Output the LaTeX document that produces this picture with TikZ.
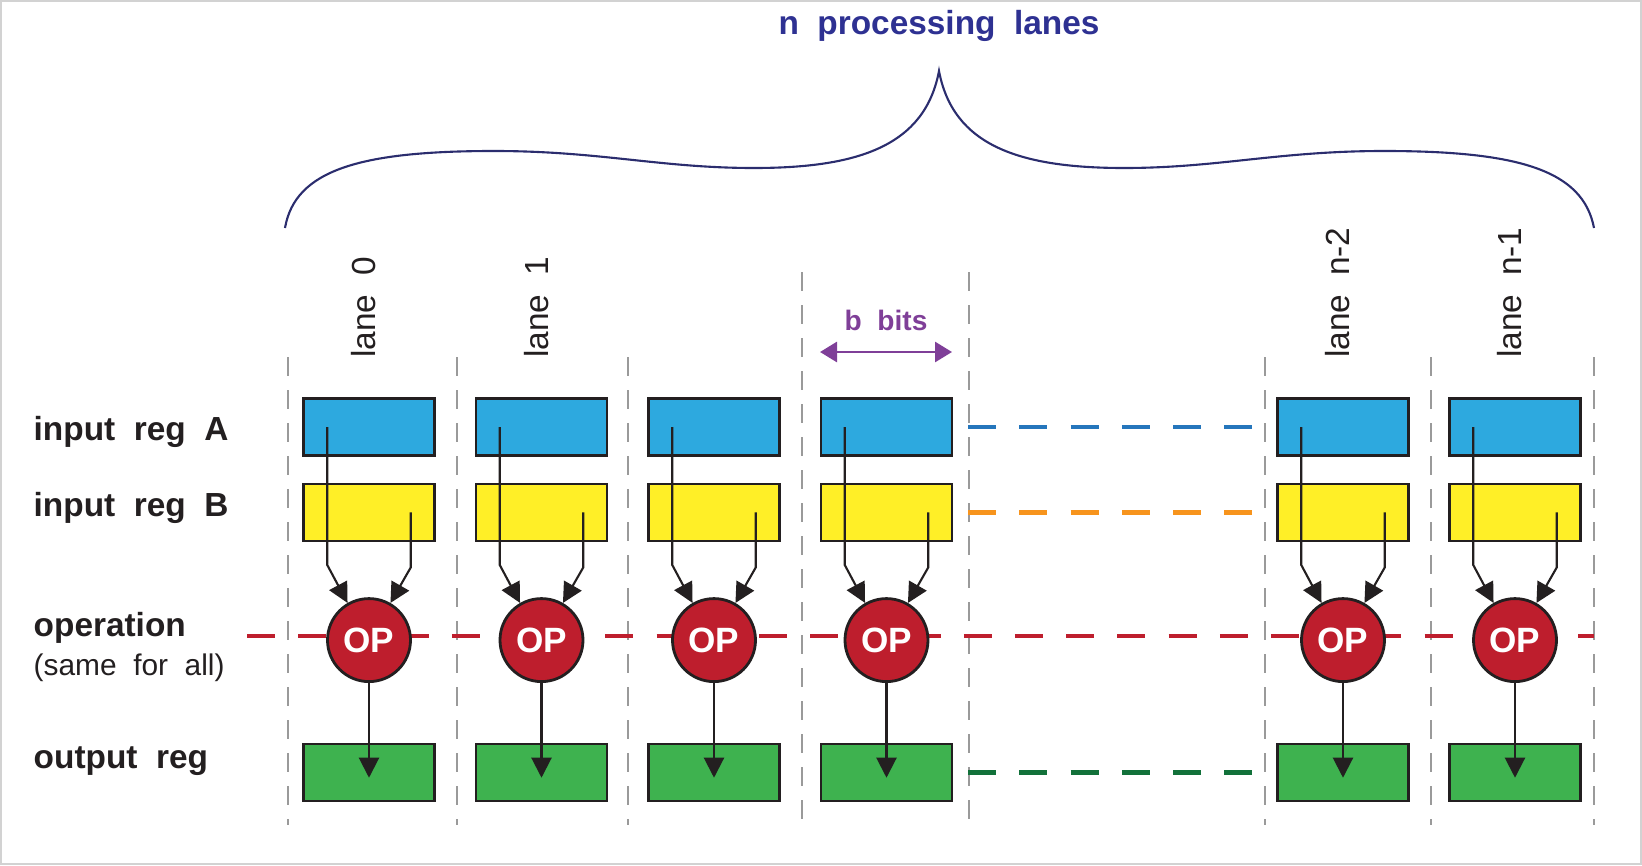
\documentclass[tikz,border=0pt]{standalone}
\usepackage{fontspec}
\setmainfont[WordSpace=2]{Liberation Sans}
\usetikzlibrary{arrows.meta,positioning}
\definecolor{laneInk}{HTML}{231F20}
\definecolor{laneBlue}{HTML}{2DA9DF}
\definecolor{laneYellow}{HTML}{FFEF27}
\definecolor{laneGreen}{HTML}{3EB24F}
\definecolor{laneRed}{HTML}{BE1E2D}
\definecolor{laneDashBlue}{HTML}{2576BC}
\definecolor{laneOrange}{HTML}{F7941D}
\definecolor{laneDarkGreen}{HTML}{12713A}
\definecolor{laneNavy}{HTML}{2E3192}
\definecolor{laneBrace}{HTML}{2B2D6E}
\definecolor{lanePurple}{HTML}{7F3F98}
\definecolor{laneGray}{HTML}{9A9A9A}
\tikzset{
  % register box (one per lane and row)
  reg/.style={rectangle,draw=laneInk,line width=0.7pt,
    minimum width=1.31cm,minimum height=0.57cm,inner sep=0pt},
  regA/.style={reg,fill=laneBlue},
  regB/.style={reg,fill=laneYellow},
  regOut/.style={reg,fill=laneGreen},
  % operation circle
  opnode/.style={circle,draw=laneInk,line width=0.8pt,fill=laneRed,
    minimum size=0.83cm,inner sep=0pt,text=white,
    font=\fontsize{10}{12}\selectfont\bfseries},
  % texts
  rowlbl/.style={anchor=west,inner sep=0pt,text=laneInk,
    font=\fontsize{9.5}{11}\selectfont\bfseries},
  sublbl/.style={anchor=west,inner sep=0pt,text=laneInk,
    font=\fontsize{8.5}{10}\selectfont},
  lanelbl/.style={rotate=90,anchor=west,inner sep=0pt,text=laneInk,
    font=\fontsize{9.5}{11}\selectfont},
  titlelbl/.style={text=laneNavy,font=\fontsize{9.5}{11}\selectfont\bfseries},
  bitslbl/.style={text=lanePurple,font=\fontsize{8}{10}\selectfont\bfseries},
  % lines
  feed/.style={-{Triangle[length=0.2cm,width=0.2cm]},line width=0.6pt,color=laneInk},
  divider/.style={laneGray,line width=0.45pt,dash pattern=on 0.185cm off 0.145cm},
  gap/.style={line width=1.3pt,dash pattern=on 0.28cm off 0.232cm},
  bitsarr/.style={{Triangle[length=0.17cm,width=0.2cm]}-{Triangle[length=0.17cm,width=0.2cm]},
    line width=0.8pt,lanePurple},
}
\begin{document}
\begin{tikzpicture}
  \useasboundingbox (0,0) rectangle (16.42,8.65);
  \draw[gray!35,line width=0.6pt] (0.01,0.01) rectangle (16.41,8.64);

  % lane dividers
  \foreach \x in {2.88,4.57,6.28,12.65,14.31,15.94}
    \draw[divider] (\x,5.08) -- (\x,0.40);
  \foreach \x in {8.02,9.69}
    \draw[divider] (\x,5.93) -- (\x,0.40);

  % brace and title
  \draw[laneBrace,line width=0.6pt] (2.85,6.37)
    .. controls (2.95,6.95) and (3.6,7.14) .. (4.94,7.14)
    .. controls (6.0,7.14) and (6.6,6.97) .. (7.54,6.97)
    .. controls (8.6,6.97) and (9.25,7.2) .. (9.39,7.94)
    .. controls (9.53,7.2) and (10.18,6.97) .. (11.24,6.97)
    .. controls (12.18,6.97) and (12.78,7.14) .. (13.84,7.14)
    .. controls (15.18,7.14) and (15.83,6.95) .. (15.94,6.37);
  \node[titlelbl] (title) at (9.39,8.39) {n processing lanes};

  % row labels
  \node[rowlbl] (lblA) at (0.33,4.33) {input reg A};
  \node[rowlbl] (lblB) at (0.33,3.57) {input reg B};
  \node[rowlbl] (lblOp) at (0.33,2.37) {operation};
  \node[sublbl] (lblSame) at (0.33,1.97) {(same for all)};
  \node[rowlbl] (lblOut) at (0.33,1.04) {output reg};

  % shared operation line
  \coordinate (opL) at (2.47,2.29);
  \coordinate (opR) at (15.94,2.29);
  \draw[gap,laneRed] (opL) -- (opR);

  % lanes
  \foreach \i/\x in {0/3.69,1/5.415,2/7.14,3/8.865,4/13.43,5/15.15}{
    \node[regA] (a\i) at (\x,4.38) {};
    \node[regB,below=0.26cm of a\i] (b\i) {};
    \node[opnode,below=0.55cm of b\i] (op\i) {OP};
    \node[regOut,below=0.6cm of op\i] (out\i) {};
    \draw[feed] ([xshift=2.5mm]a\i.west) -- ++(0,-1.38) -- (op\i.120);
    \draw[feed] ([xshift=-2.5mm]b\i.east) -- ++(0,-0.55) -- (op\i.60);
    \draw[feed] (op\i.south) -- ([yshift=-0.5mm]out\i.center);
  }

  % lane names
  \node[lanelbl] (lbl0) at ([xshift=-0.5mm,yshift=3.9mm]a0.north) {lane 0};
  \node[lanelbl] (lbl1) at ([xshift=-0.5mm,yshift=3.9mm]a1.north) {lane 1};
  \node[lanelbl] (lbl4) at ([xshift=-0.5mm,yshift=3.9mm]a4.north) {lane n-2};
  \node[lanelbl] (lbl5) at ([xshift=-0.5mm,yshift=3.9mm]a5.north) {lane n-1};

  % lane width
  \node[bitslbl] (bits) at (8.86,5.45) {b bits};
  \coordinate (bitsL) at (8.20,5.13);
  \coordinate (bitsR) at (9.52,5.13);
  \draw[bitsarr] (bitsL) -- (bitsR);

  % lanes left out
  \draw[gap,laneDashBlue] ([xshift=1.5mm]a3.east) -- ([xshift=-2.1mm]a4.west);
  \draw[gap,laneOrange] ([xshift=1.5mm]b3.east) -- ([xshift=-2.1mm]b4.west);
  \draw[gap,laneDarkGreen] ([xshift=1.5mm]out3.east) -- ([xshift=-2.1mm]out4.west);
\end{tikzpicture}
\end{document}
